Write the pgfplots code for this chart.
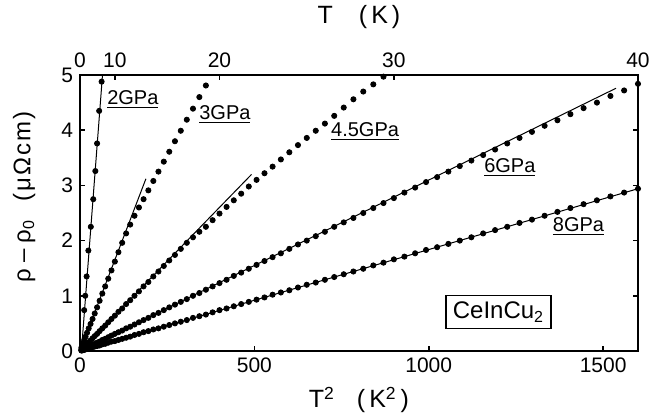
\documentclass[border=0pt]{standalone}
\usepackage{pgfplots}
\pgfplotsset{compat=1.18}
\usepackage{fontspec}
\setmainfont{Liberation Sans}
\begin{document}
\begin{tikzpicture}[x=1pt,y=1pt]
\path[use as bounding box] (-40,-32) rectangle (290,175.5);
\pgfplotsset{
  common/.style={
    at={(0,0)}, anchor=south west,
    scale only axis, width=279pt, height=138pt,
    xmin=0, xmax=1600, ymin=0, ymax=5,
    tick align=inside, major tick length=2.5pt,
    tick style={line width=0.8pt, black},
    every tick label/.append style={font=\fontsize{10.5}{12}\selectfont},
    /pgf/number format/assume math mode=true,
    /pgf/number format/1000 sep={},
    scaled ticks=false,
  },
  dots/.style={only marks, mark=*, mark size=1.3pt, color=black, mark options={fill=black, draw=black}},
  fit/.style={no marks, color=black, line width=0.5pt},
}
\begin{axis}[common,
  xtick={0,500,1000,1500}, ytick={0,1,2,3,4,5},
  xtick pos=bottom, ytick pos=both, yticklabel pos=left,
  axis line style={line width=1pt},
  clip=false,
  xlabel={T\textsuperscript{2}\hspace{11pt}(\kern2pt K\textsuperscript{2}\kern2pt)},
  xlabel style={font=\fontsize{12.5}{14}\selectfont, at={(axis description cs:0.5,-0.178)}, anchor=center},
  ylabel={ρ\hspace{3pt}–\hspace{3pt}ρ\textsubscript{0}\hspace{9pt}(\kern1pt μ\kern1pt Ω\kern1pt c\kern1pt m\kern1pt)},
  ylabel style={font=\fontsize{12}{14}\selectfont, at={(axis description cs:-0.1,0.558)}, anchor=center},
]
% 2 GPa
\addplot[dots] coordinates {(12,0.74)(15,1.00)(19,1.35)(24,1.82)(31,2.25)(38,2.75)(44,3.26)(49,3.76)(55,4.35)(62,4.88)};
\addplot[fit] coordinates {(6.5,0.2)(64.5,5.0)};
% 3 GPa
\addplot[dots] coordinates {(4,0.06)(6.25,0.10)(9,0.15)(12.25,0.20)(16,0.26)(20.25,0.33)(25,0.41)(30.25,0.49)(36,0.58)(42.25,0.68)(49,0.79)(56.25,0.91)(64,1.04)(72.25,1.17)(81,1.31)(90.25,1.46)(100,1.62)(110.25,1.79)(121,1.96)(132.25,2.13)(144,2.29)(156.25,2.45)(169,2.60)(182.25,2.75)(196,2.91)(210.25,3.08)(225,3.25)(240.25,3.43)(256,3.61)(272.25,3.80)(289,3.99)(306.25,4.19)(324,4.39)(342.25,4.60)(361,4.81)};
\addplot[fit] coordinates {(0,0)(189,3.12)};
% 4.5 GPa
\addplot[dots] coordinates {(4,0.03)(6.25,0.04)(9,0.06)(12.25,0.08)(16,0.10)(20.25,0.13)(25,0.16)(30.25,0.19)(36,0.23)(42.25,0.27)(49,0.31)(56.25,0.36)(64,0.41)(72.25,0.46)(81,0.52)(90.25,0.58)(100,0.64)(110.25,0.71)(121,0.77)(132.25,0.85)(144,0.92)(156.25,1.00)(169,1.08)(182.25,1.17)(196,1.25)(210.25,1.35)(225,1.44)(240.25,1.54)(256,1.64)(272.25,1.74)(289,1.85)(306.25,1.96)(324,2.06)(342.25,2.16)(361,2.25)(380.25,2.37)(400,2.49)(420.25,2.61)(441,2.73)(462.25,2.85)(484,2.98)(506.25,3.10)(529,3.22)(552.25,3.34)(576,3.47)(600.25,3.60)(625,3.73)(650.25,3.86)(676,3.99)(702.25,4.12)(729,4.26)(756.25,4.41)(784,4.56)(812.25,4.70)(841,4.83)(870.25,4.97)};
\addplot[fit] coordinates {(0,0)(492,3.2)};
% 6 GPa
\addplot[dots] coordinates {(4,0.01)(6.25,0.02)(9,0.03)(12.25,0.04)(16,0.05)(20.25,0.06)(25,0.08)(30.25,0.09)(36,0.11)(42.25,0.13)(49,0.15)(56.25,0.17)(64,0.20)(72.25,0.22)(81,0.25)(90.25,0.28)(100,0.31)(110.25,0.34)(121,0.37)(132.25,0.41)(144,0.44)(156.25,0.48)(169,0.52)(182.25,0.56)(196,0.60)(210.25,0.65)(225,0.69)(240.25,0.74)(256,0.79)(272.25,0.84)(289,0.89)(306.25,0.94)(324,1.00)(342.25,1.05)(361,1.11)(380.25,1.17)(400,1.23)(420.25,1.29)(441,1.36)(462.25,1.42)(484,1.49)(506.25,1.56)(529,1.63)(552.25,1.70)(576,1.77)(600.25,1.85)(625,1.93)(650.25,2.00)(676,2.08)(702.25,2.16)(729,2.25)(756.25,2.33)(784,2.41)(812.25,2.50)(841,2.59)(870.25,2.68)(900,2.77)(930.25,2.87)(961,2.96)(992.25,3.06)(1024,3.15)(1056.25,3.25)(1089,3.35)(1122.25,3.45)(1156,3.55)(1190.25,3.65)(1225,3.76)(1260.25,3.86)(1296,3.97)(1332.25,4.08)(1369,4.18)(1406.25,4.29)(1444,4.40)(1482.25,4.50)(1521,4.62)(1560.25,4.72)(1600,4.84)};
\addplot[fit] coordinates {(0,0)(1537,4.76)};
% 8 GPa
\addplot[dots] coordinates {(4,0.01)(6.25,0.01)(9,0.02)(12.25,0.02)(16,0.03)(20.25,0.04)(25,0.05)(30.25,0.06)(36,0.07)(42.25,0.08)(49,0.09)(56.25,0.10)(64,0.12)(72.25,0.13)(81,0.15)(90.25,0.17)(100,0.18)(110.25,0.20)(121,0.22)(132.25,0.24)(144,0.26)(156.25,0.29)(169,0.31)(182.25,0.34)(196,0.36)(210.25,0.39)(225,0.41)(240.25,0.44)(256,0.47)(272.25,0.50)(289,0.53)(306.25,0.56)(324,0.60)(342.25,0.63)(361,0.66)(380.25,0.70)(400,0.74)(420.25,0.77)(441,0.81)(462.25,0.85)(484,0.89)(506.25,0.93)(529,0.97)(552.25,1.02)(576,1.06)(600.25,1.10)(625,1.15)(650.25,1.20)(676,1.24)(702.25,1.29)(729,1.34)(756.25,1.39)(784,1.44)(812.25,1.49)(841,1.55)(870.25,1.60)(900,1.66)(930.25,1.71)(961,1.77)(992.25,1.83)(1024,1.88)(1056.25,1.94)(1089,2.00)(1122.25,2.06)(1156,2.13)(1190.25,2.19)(1225,2.25)(1260.25,2.32)(1296,2.38)(1332.25,2.45)(1369,2.52)(1406.25,2.59)(1444,2.66)(1482.25,2.73)(1521,2.80)(1560.25,2.87)(1600,2.94)};
\addplot[fit] coordinates {(0,0)(1600,2.94)};
% labels
\begin{scope}[every node/.style={anchor=base west, inner sep=0pt, font=\fontsize{10}{12}\selectfont}]
\node at (axis cs:77,4.46) {\underline{2GPa}};
\node at (axis cs:341,4.20) {\underline{3GPa}};
\node at (axis cs:719,3.88) {\underline{4.5GPa}};
\node at (axis cs:1158,3.24) {\underline{6GPa}};
\node at (axis cs:1355,2.17) {\underline{8GPa}};
\end{scope}
\node[draw, line width=0.6pt, inner sep=0pt, minimum width=52.5pt, minimum height=16.5pt, font=\fontsize{12}{14}\selectfont] at (axis cs:1200,0.70) {CeInCu\textsubscript{2}};
\end{axis}
\begin{axis}[common,
  axis x line*=top, axis y line=none,
  xtick={0,100,400,900,1600}, xticklabels={0,10,20,30,40},
  xlabel={T\hspace{13pt}(\kern2pt K\kern2pt)},
  xlabel style={font=\fontsize{12.5}{14}\selectfont, at={(axis description cs:0.5,1.21)}, anchor=center},
  axis line style={line width=1pt},
]
\addplot[draw=none, forget plot] coordinates {(0,0)};
\end{axis}
\end{tikzpicture}
\end{document}
